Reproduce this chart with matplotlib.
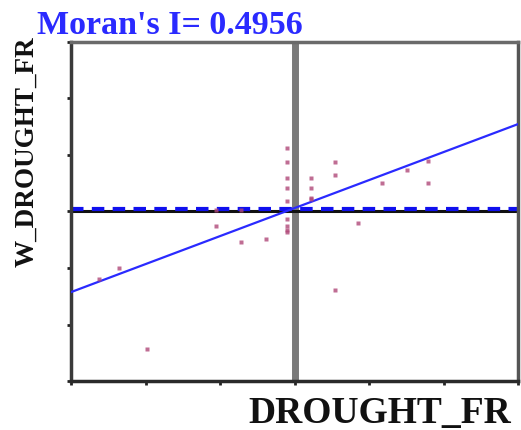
import matplotlib
matplotlib.use("Agg")
import matplotlib.pyplot as plt
import numpy as np

# standardized drought values and their spatial lags
drought_fr = [-0.10, -0.10, -0.10, -0.10, -0.10, -0.10, -0.10, -0.10, -0.10,
              0.55, 0.55, 0.22, 0.22, 0.22, 1.18, 1.79, 1.79, 1.51,
              -1.05, -0.72, -0.38, 0.85, -2.35, -2.62, 0.55, -1.98,
              -1.05, -0.72, 0.22]
w_drought_fr = [1.13, 0.88, 0.59, 0.41, 0.18, -0.13, -0.26, -0.32, -0.37,
                0.88, 0.65, 0.59, 0.41, 0.24, 0.51, 0.89, 0.51, 0.74,
                -0.25, -0.54, -0.48, -0.21, -1.00, -1.19, -1.39, -2.43,
                0.03, 0.03, 0.22]
morans_i = 0.4956
intercept = 0.06
mean_lag = 0.04
xlim = (-3, 3)
ylim = (-3, 3)

fig = plt.figure(figsize=(5.21, 4.30), dpi=100)
ax = fig.add_axes([71/521, 49/430, 447/521, 339/430])

ax.axvline(0, color='#7a7a7a', lw=5, zorder=1)
ax.axhline(0, color='#111111', lw=2.2, zorder=1)
ax.axhline(mean_lag, color='#1010ee', lw=3, ls=(0, (3, 2)), zorder=2)

xs = np.array(xlim)
ax.plot(xs, intercept + morans_i * xs, color='#2a2aff', lw=1.6, zorder=3)

ax.plot(drought_fr, w_drought_fr, 's', ms=2.6, color='#b04878',
        mec='none', alpha=0.8, zorder=4)

ax.set_xlim(xlim)
ax.set_ylim(ylim)
ax.set_xticks(np.arange(-3, 4))
ax.set_yticks(np.arange(-3, 4))
ax.tick_params(length=3, width=2, color='#222222',
               labelbottom=False, labelleft=False)
for side, col in [('left', '#3a3a3a'), ('bottom', '#2a2a2a'),
                  ('top', '#6a6a6a'), ('right', '#555555')]:
    ax.spines[side].set_color(col)
    ax.spines[side].set_linewidth(2.5)

serif = ['Liberation Serif', 'DejaVu Serif']
fig.text(37/521, 1 - 34/430, "Moran's I= %.4f" % morans_i, color='#2a2aff',
         fontsize=24.5, fontweight='bold', family=serif, va='baseline')
fig.text(27/521, 1 - 152/430, 'W_DROUGHT_FR', rotation=90, color='#111111',
         fontsize=19.5, fontweight='bold', family=serif, ha='center', va='center')
fig.text(248/521, 1 - 423/430, 'DROUGHT_FR', color='#111111',
         fontsize=27, fontweight='bold', family=serif, va='baseline')

fig.savefig('out.png', dpi=100)
